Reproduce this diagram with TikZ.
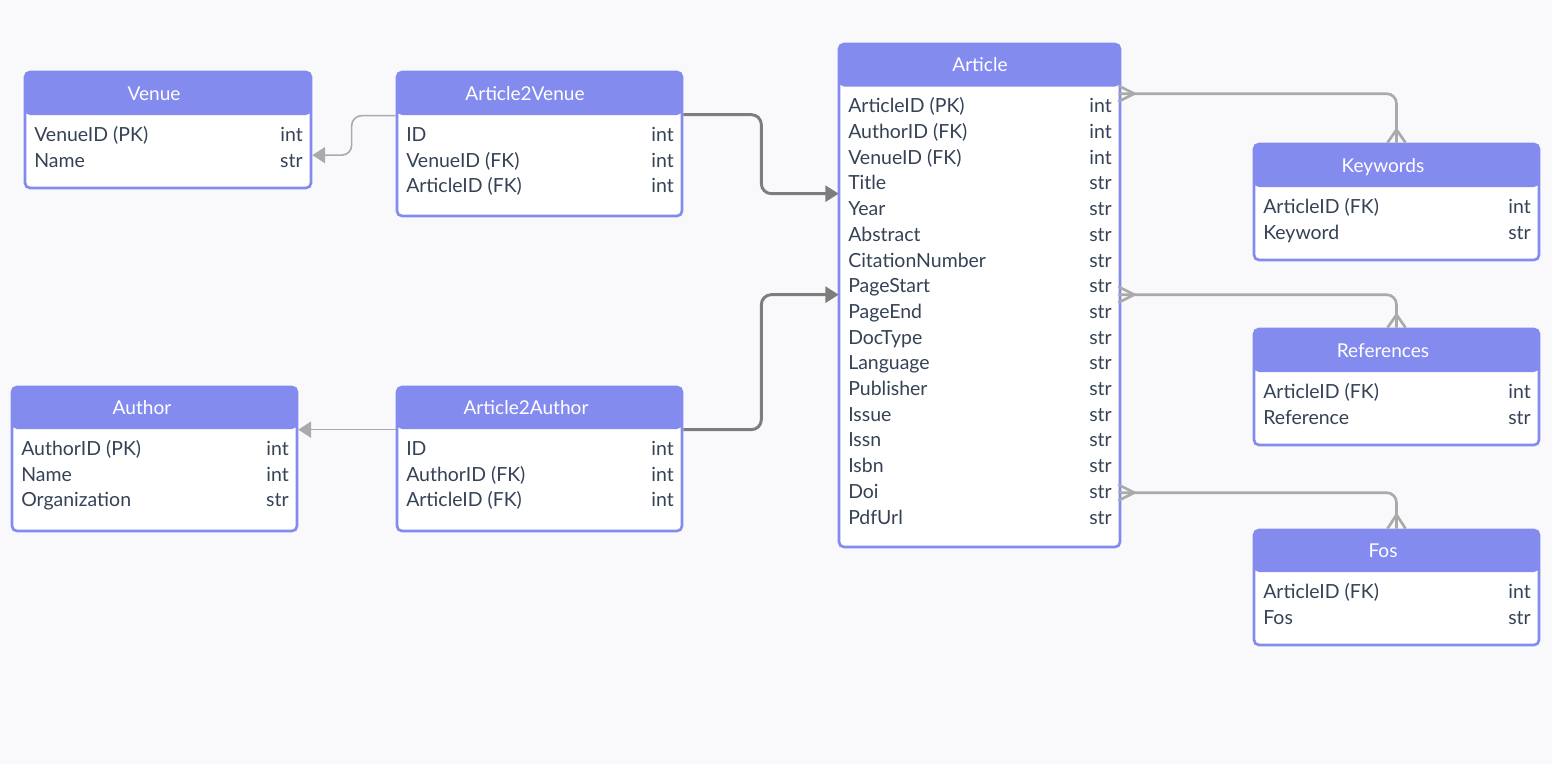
\documentclass[tikz,border=0pt]{standalone}
\usepackage{fontspec}
\setmainfont{Lato}
\usetikzlibrary{arrows.meta,calc,fit}
\definecolor{hdr}{RGB}{132,139,239}
\definecolor{txt}{RGB}{53,66,86}
\definecolor{bgc}{RGB}{249,249,251}
\definecolor{lgray}{RGB}{170,170,170}
\definecolor{dgray}{RGB}{125,125,125}
\tikzset{
  tablebox/.style={draw=hdr, line width=2pt, fill=white, rounded corners=3.75pt, inner sep=0pt},
  titletxt/.style={text=white, font=\fontsize{14.3}{16}\selectfont, anchor=base, inner sep=0pt},
  fieldtxt/.style={text=txt, font=\fontsize{14.6}{17}\selectfont, inner sep=0pt},
  lightconn/.style={draw=lgray, line width=1.2pt, rounded corners=7.5pt, -{Triangle[length=9.5pt,width=12pt]}},
  darkconn/.style={draw=dgray, line width=2.2pt, rounded corners=7.5pt, -{Triangle[length=10pt,width=12pt]}},
  crowconn/.style={draw=lgray, line width=2pt, rounded corners=7.5pt},
  crowfoot/.style={draw=lgray, line width=2pt},
}
% #1 name, #2 x1, #3 y1, #4 x2, #5 y2, #6 header bottom, #7 title, #8 title centre x
\newcommand\ertable[8]{%
  \node[tablebox, fit={(#2,#3) (#4,#5)},
    path picture={\fill[hdr] (path picture bounding box.north west) rectangle ($(path picture bounding box.north east)+(0,#6-#3)$);}] (#1) {};
  \node[titletxt] (#1-title) at (#8,{(#3+#6)/2+6.7}) {#7};
}
\newcommand\erows[5]{%
  \foreach \f/\t [count=\i] in {#5} {
    \node[fieldtxt, anchor=base west] (#1-\i-f) at ({#2+9},{#4+26.3+(\i-1)*25.7}) {\f};
    \node[fieldtxt, anchor=base east] (#1-\i-t) at ({#3-8},{#4+26.3+(\i-1)*25.7}) {\t};
  }%
}
\begin{document}
\begin{tikzpicture}[x=0.75pt,y=-0.75pt]
\useasboundingbox (0,0) rectangle (1552,764);
\fill[bgc] (0,0) rectangle (1552,764);

\ertable{venue}{25}{72}{311}{188}{115}{Venue}{154}
\erows{venue}{25}{311}{115}{VenueID (PK)/int, Name/str}

\ertable{a2v}{397}{72}{682}{216}{115}{Article2Venue}{525}
\erows{a2v}{397}{682}{115}{ID/int, VenueID (FK)/int, ArticleID (FK)/int}

\ertable{art}{839}{44}{1120}{547}{86.5}{Article}{980}
\erows{art}{839}{1120}{86.5}{ArticleID (PK)/int, AuthorID (FK)/int, VenueID (FK)/int, Title/str, Year/str, Abstract/str, CitationNumber/str, PageStart/str, PageEnd/str, DocType/str, Language/str, Publisher/str, Issue/str, Issn/str, Isbn/str, Doi/str, PdfUrl/str}

\ertable{kw}{1254}{144}{1539}{260}{187}{Keywords}{1383}
\erows{kw}{1254}{1539}{187}{ArticleID (FK)/int, Keyword/str}

\ertable{refs}{1254}{329}{1539}{445}{372}{References}{1383}
\erows{refs}{1254}{1539}{372}{ArticleID (FK)/int, Reference/str}

\ertable{fos}{1254}{530}{1539}{645}{572}{Fos}{1383}
\erows{fos}{1254}{1539}{572}{ArticleID (FK)/int, Fos/str}

\ertable{author}{12}{387}{297}{531}{429}{Author}{142}
\erows{author}{12}{297}{429}{AuthorID (PK)/int, Name/int, Organization/str}

\ertable{a2a}{397}{387}{682}{531}{429}{Article2Author}{526}
\erows{a2a}{397}{682}{429}{ID/int, AuthorID (FK)/int, ArticleID (FK)/int}

% connectors
\draw[lightconn] ($(a2v.north west)+(0,45)$) -- ++(-44,0) |- ($(venue.north east)+(0,84.5)$);
\draw[lightconn] ($(a2a.north west)+(0,44)$) -- ($(author.north east)+(0,44)$);
\draw[darkconn] ($(a2v.north east)+(0,44)$) -- ++(78,0) |- ($(art.north west)+(1,151)$);
\draw[darkconn] ($(a2a.north east)+(0,44)$) -- ++(78,0) |- ($(art.north west)+(1,252)$);

\draw[crowconn] ($(art.north east)+(-3,51)$) -| (kw.north);
\draw[crowfoot] ($(art.north east)+(-3,43)$) -- ($(art.north east)+(13,51)$) -- ($(art.north east)+(-3,59)$);
\draw[crowfoot] ($(kw.north)+(-9,0)$) -- ($(kw.north)+(0,-13)$) -- ($(kw.north)+(9,0)$);

\draw[crowconn] ($(art.north east)+(-3,252)$) -| (refs.north);
\draw[crowfoot] ($(art.north east)+(-3,244)$) -- ($(art.north east)+(13,252)$) -- ($(art.north east)+(-3,260)$);
\draw[crowfoot] ($(refs.north)+(-9,0)$) -- ($(refs.north)+(0,-13)$) -- ($(refs.north)+(9,0)$);

\draw[crowconn] ($(art.north east)+(-3,450)$) -| (fos.north);
\draw[crowfoot] ($(art.north east)+(-3,442)$) -- ($(art.north east)+(13,450)$) -- ($(art.north east)+(-3,458)$);
\draw[crowfoot] ($(fos.north)+(-9,0)$) -- ($(fos.north)+(0,-14)$) -- ($(fos.north)+(9,0)$);
\end{tikzpicture}
\end{document}
